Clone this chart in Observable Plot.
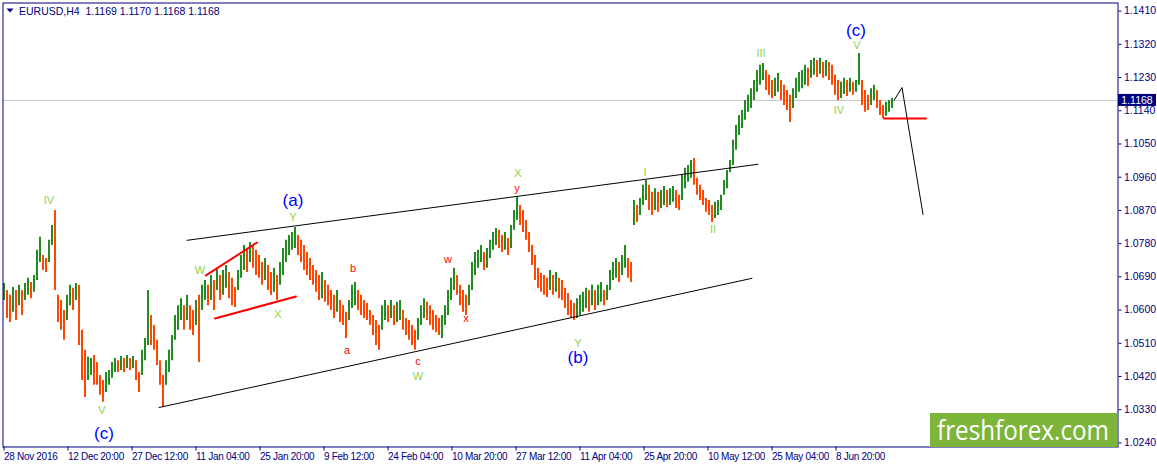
<!DOCTYPE html>
<html><head><meta charset="utf-8">
<script src="https://cdn.jsdelivr.net/npm/d3@7"></script>
<script src="https://cdn.jsdelivr.net/npm/@observablehq/plot@0.6"></script>
<style>body{margin:0;background:#fff}svg{display:block}</style>
</head><body><div id="chart"></div><script>
// ---- data ----
const symbol = "EURUSD,H4";
const lastOHLC = [1.1169, 1.1170, 1.1168, 1.1168];
const currentPrice = 1.1168;
const barStep = 3; // one sample every 3 H4 bars, bar 0 = 28 Nov 2016 00:00
const barHigh = [
1.0672,1.0653,1.0640,1.0661,1.0653,1.0667,1.0653,1.0672,1.0686,1.0675,
1.0694,1.0762,1.0797,1.0748,1.0740,1.0789,1.0829,1.0870,1.0640,1.0626,
1.0599,1.0640,1.0667,1.0659,1.0672,1.0667,1.0545,1.0491,1.0472,1.0469,
1.0477,1.0458,1.0423,1.0409,1.0431,1.0436,1.0458,1.0469,1.0463,1.0474,
1.0469,1.0477,1.0469,1.0474,1.0463,1.0431,1.0491,1.0523,1.0653,1.0585,
1.0558,1.0518,1.0463,1.0423,1.0463,1.0491,1.0531,1.0585,1.0612,1.0631,
1.0612,1.0640,1.0612,1.0599,1.0626,1.0640,1.0667,1.0680,1.0667,1.0694,
1.0680,1.0713,1.0694,1.0707,1.0721,1.0702,1.0686,1.0661,1.0707,1.0748,
1.0775,1.0767,1.0783,1.0775,1.0762,1.0748,1.0729,1.0740,1.0721,1.0702,
1.0713,1.0694,1.0729,1.0767,1.0789,1.0802,1.0810,1.0824,1.0802,1.0789,
1.0775,1.0756,1.0740,1.0721,1.0707,1.0694,1.0702,1.0680,1.0667,1.0653,
1.0640,1.0653,1.0626,1.0612,1.0594,1.0626,1.0667,1.0675,1.0653,1.0640,
1.0626,1.0618,1.0599,1.0585,1.0572,1.0558,1.0612,1.0626,1.0612,1.0626,
1.0612,1.0621,1.0626,1.0599,1.0577,1.0572,1.0558,1.0545,1.0577,1.0612,
1.0631,1.0621,1.0612,1.0599,1.0585,1.0577,1.0585,1.0612,1.0653,1.0686,
1.0713,1.0694,1.0667,1.0653,1.0640,1.0667,1.0729,1.0756,1.0762,1.0775,
1.0756,1.0767,1.0789,1.0810,1.0821,1.0816,1.0802,1.0810,1.0794,1.0829,
1.0870,1.0905,1.0883,1.0870,1.0843,1.0810,1.0775,1.0748,1.0713,1.0699,
1.0694,1.0686,1.0707,1.0694,1.0702,1.0686,1.0680,1.0659,1.0645,1.0626,
1.0618,1.0631,1.0640,1.0648,1.0659,1.0653,1.0667,1.0653,1.0667,1.0675,
1.0653,1.0667,1.0707,1.0729,1.0740,1.0729,1.0748,1.0775,1.0740,1.0729,
1.0897,1.0883,1.0902,1.0938,1.0951,1.0938,1.0919,1.0929,1.0919,1.0924,
1.0935,1.0924,1.0929,1.0935,1.0924,1.0911,1.0965,1.0984,1.0992,1.1005,
1.1011,1.0957,1.0938,1.0924,1.0902,1.0897,1.0883,1.0892,1.0897,1.0911,
1.0951,1.0978,1.1005,1.1060,1.1100,1.1127,1.1141,1.1168,1.1182,1.1200,
1.1222,1.1249,1.1263,1.1268,1.1249,1.1236,1.1222,1.1228,1.1241,1.1222,
1.1209,1.1195,1.1182,1.1200,1.1228,1.1244,1.1249,1.1263,1.1255,1.1276,
1.1282,1.1276,1.1282,1.1271,1.1276,1.1271,1.1263,1.1236,1.1222,1.1217,
1.1228,1.1222,1.1228,1.1217,1.1222,1.1295,1.1222,1.1195,1.1182,1.1200,
1.1209,1.1195,1.1168,1.1154,1.1163,1.1168,1.1173];
const barLow = [
1.0626,1.0577,1.0566,1.0594,1.0572,1.0612,1.0585,1.0626,1.0640,1.0631,
1.0648,1.0680,1.0729,1.0707,1.0702,1.0729,1.0775,1.0653,1.0566,1.0545,
1.0518,1.0572,1.0612,1.0599,1.0626,1.0504,1.0409,1.0363,1.0409,1.0423,
1.0396,1.0396,1.0369,1.0350,1.0377,1.0396,1.0415,1.0431,1.0431,1.0436,
1.0431,1.0442,1.0436,1.0442,1.0409,1.0377,1.0423,1.0463,1.0504,1.0504,
1.0491,1.0450,1.0396,1.0336,1.0396,1.0431,1.0463,1.0518,1.0545,1.0572,
1.0545,1.0572,1.0545,1.0531,1.0558,1.0458,1.0599,1.0626,1.0612,1.0626,
1.0599,1.0653,1.0626,1.0640,1.0659,1.0631,1.0612,1.0607,1.0653,1.0686,
1.0707,1.0702,1.0729,1.0713,1.0694,1.0686,1.0667,1.0680,1.0653,1.0640,
1.0648,1.0626,1.0667,1.0694,1.0729,1.0748,1.0762,1.0767,1.0748,1.0729,
1.0707,1.0694,1.0680,1.0667,1.0648,1.0626,1.0631,1.0621,1.0612,1.0599,
1.0577,1.0594,1.0566,1.0558,1.0523,1.0572,1.0604,1.0612,1.0599,1.0585,
1.0577,1.0572,1.0558,1.0531,1.0504,1.0491,1.0545,1.0572,1.0566,1.0577,
1.0558,1.0566,1.0572,1.0545,1.0531,1.0518,1.0504,1.0491,1.0518,1.0558,
1.0577,1.0572,1.0558,1.0545,1.0539,1.0531,1.0523,1.0558,1.0585,1.0626,
1.0653,1.0640,1.0612,1.0594,1.0585,1.0612,1.0653,1.0694,1.0713,1.0729,
1.0707,1.0713,1.0740,1.0762,1.0775,1.0767,1.0756,1.0762,1.0748,1.0767,
1.0816,1.0843,1.0829,1.0810,1.0789,1.0756,1.0721,1.0680,1.0659,1.0648,
1.0640,1.0634,1.0653,1.0640,1.0648,1.0631,1.0626,1.0604,1.0585,1.0577,
1.0572,1.0577,1.0585,1.0594,1.0604,1.0594,1.0612,1.0599,1.0612,1.0621,
1.0612,1.0626,1.0653,1.0680,1.0686,1.0675,1.0694,1.0713,1.0686,1.0675,
1.0829,1.0837,1.0856,1.0883,1.0897,1.0870,1.0856,1.0870,1.0865,1.0875,
1.0883,1.0878,1.0883,1.0892,1.0875,1.0870,1.0897,1.0929,1.0946,1.0957,
1.0938,1.0911,1.0897,1.0883,1.0865,1.0856,1.0837,1.0848,1.0856,1.0870,
1.0911,1.0929,1.0973,1.0992,1.1033,1.1073,1.1092,1.1114,1.1136,1.1146,
1.1168,1.1190,1.1209,1.1222,1.1195,1.1182,1.1173,1.1179,1.1190,1.1168,
1.1154,1.1141,1.1108,1.1146,1.1173,1.1190,1.1200,1.1209,1.1206,1.1228,
1.1236,1.1230,1.1239,1.1228,1.1233,1.1222,1.1209,1.1182,1.1168,1.1173,
1.1184,1.1179,1.1190,1.1182,1.1190,1.1209,1.1154,1.1136,1.1141,1.1154,
1.1168,1.1146,1.1127,1.1119,1.1125,1.1136,1.1146];

const dateTicks = [0,64,128,192,256,320,384,448,512,576,640,704,768,832];
const dateLabels = ["28 Nov 2016","12 Dec 20:00","27 Dec 12:00","11 Jan 04:00","25 Jan 20:00","9 Feb 12:00","24 Feb 04:00","10 Mar 20:00","27 Mar 12:00","11 Apr 04:00","25 Apr 20:00","10 May 12:00","25 May 04:00","8 Jun 20:00"];
const priceTicks = [1.1410,1.1320,1.1230,1.1140,1.1050,1.0960,1.0870,1.0780,1.0690,1.0600,1.0510,1.0420,1.0330,1.0240];

// trend lines (bar index, price)
const channelUpper = [{t:183,p:1.0789},{t:754,p:1.0995}];
const channelLower = [{t:155,p:1.0336},{t:748,p:1.0686}];
const wedgeUpper = [{t:202,p:1.0694},{t:253,p:1.0783}];
const wedgeLower = [{t:211,p:1.0577},{t:292,p:1.0637}];
const stopLevel = [{t:880,p:1.1119},{t:922,p:1.1119}];
const projection = [{t:890,p:1.1168},{t:898,p:1.1203},{t:919,p:1.0859}];

// wave labels
const waveText  = ["IV","V","(c)","W","X","(a)","Y","a","b","c","W","w","x","X","y","Y","(b)","I","II","III","IV","V","(c)"];
const waveBar   = [45,98,100,196,274,289,289,343,349,414,414,444,462,514,513,574,574,641,709,757,835,853,852];
const wavePrice = [1.0897,1.0328,1.0266,1.0707,1.0588,1.0897,1.0851,1.0491,1.0713,1.0461,1.0420,1.0737,1.0577,1.0970,1.0929,1.0509,1.0472,1.0973,1.0818,1.1295,1.1141,1.1317,1.1358];
const waveKind  = ["g","g","B","g","g","B","g","r","r","r","g","r","r","g","r","g","B","g","g","g","g","g","B"];

// ---- build ----
const bars = barHigh.map((h, i) => ({t: i * barStep, high: h, low: barLow[i]}));
bars.forEach((b, i) => {
  const mid = (b.high + b.low) / 2;
  const prev = i ? (bars[i-1].high + bars[i-1].low) / 2 : mid;
  b.up = mid >= prev;
});
const labels = waveText.map((s, i) => ({text: s, t: waveBar[i], p: wavePrice[i], kind: waveKind[i]}));
const kindColor = {g: "#8fd14a", r: "#ff0000", B: "#0000ff"};
const kindSize = {g: 11, r: 11, B: 17};

const W = 1157, H = 468;
const mL = 2.5, mR = 39.5, mT = 2.5, mB = 21.5;
const navy = "#000080";
const font = "Liberation Sans, Arial, sans-serif";

const chart = Plot.plot({
  width: W, height: H,
  marginLeft: mL, marginRight: mR, marginTop: mT, marginBottom: mB,
  style: {fontFamily: font, fontSize: "10.5px", color: navy, background: "#fff", overflow: "visible"},
  x: {type: "linear", domain: [-1, 1114], axis: null},
  y: {type: "linear", domain: [1.0229, 1.1432], axis: null},
  marks: [
    Plot.ruleY([currentPrice], {stroke: "#c8c8c8", strokeWidth: 1}),
    Plot.ruleX(bars, {x: "t", y1: "low", y2: "high", stroke: d => d.up ? "#228b22" : "#ff4500", strokeWidth: 2}),
    Plot.line(channelUpper, {x: "t", y: "p", stroke: "#000", strokeWidth: 1}),
    Plot.line(channelLower, {x: "t", y: "p", stroke: "#000", strokeWidth: 1}),
    Plot.line(wedgeUpper, {x: "t", y: "p", stroke: "#ff0000", strokeWidth: 2}),
    Plot.line(wedgeLower, {x: "t", y: "p", stroke: "#ff0000", strokeWidth: 2}),
    Plot.line(stopLevel, {x: "t", y: "p", stroke: "#ff0000", strokeWidth: 2}),
    Plot.line(projection, {x: "t", y: "p", stroke: "#000", strokeWidth: 1}),
    Plot.text(labels, {x: "t", y: "p", text: "text", fill: d => kindColor[d.kind], fontSize: d => kindSize[d.kind], textAnchor: "middle", lineAnchor: "middle", fontFamily: font}),
    Plot.frame({stroke: navy}),
    Plot.axisY({anchor: "right", ticks: priceTicks, tickFormat: d3.format(".4f"), tickSize: 3, tickPadding: 3, label: null, stroke: navy, fill: navy}),
    Plot.axisX({anchor: "bottom", ticks: dateTicks, tickFormat: (d) => dateLabels[dateTicks.indexOf(d)], tickSize: 4, tickPadding: 2, textAnchor: "start", dx: 0, label: null, stroke: navy, fill: navy, fontSize: 10})
  ]
});
document.getElementById("chart").appendChild(chart);

const svg = d3.select(chart);
// tighten the date labels like the terminal's narrow font
svg.selectAll("g[aria-label='x-axis tick label'] text").attr("letter-spacing", "-0.3px");

// overlays that use the chart's scales
const ys = chart.scale("y");
const yCur = ys.apply(currentPrice);
svg.append("rect").attr("x", 1118).attr("y", yCur - 6).attr("width", 38).attr("height", 12).attr("fill", navy);
svg.append("text").attr("x", 1137).attr("y", yCur).attr("dy", "0.35em").attr("text-anchor", "middle")
  .attr("fill", "#fff").attr("font-size", 10.5).attr("font-family", font)
  .text(d3.format(".4f")(currentPrice));

// header
svg.append("path").attr("d", "M6.5,8.5 L13.5,8.5 L10,12.5 Z").attr("fill", navy);
svg.append("text").attr("x", 19).attr("y", 15).attr("fill", navy).attr("text-anchor", "start")
  .attr("font-size", 10.5).attr("font-family", font).style("white-space", "pre")
  .text(symbol + "\u00a0\u00a0" + lastOHLC.map(d3.format(".4f")).join(" "));

// watermark
svg.append("rect").attr("x", 930).attr("y", 413).attr("width", 187).attr("height", 34).attr("fill", "#7db43a");
svg.append("text").attr("x", 1023).attr("y", 440).attr("text-anchor", "middle").attr("fill", "#fff")
  .attr("font-size", 27).attr("font-family", "Open Sans, Noto Sans, sans-serif")
  .attr("textLength", 172).attr("lengthAdjust", "spacingAndGlyphs").text("freshforex.com");
</script></body></html>
